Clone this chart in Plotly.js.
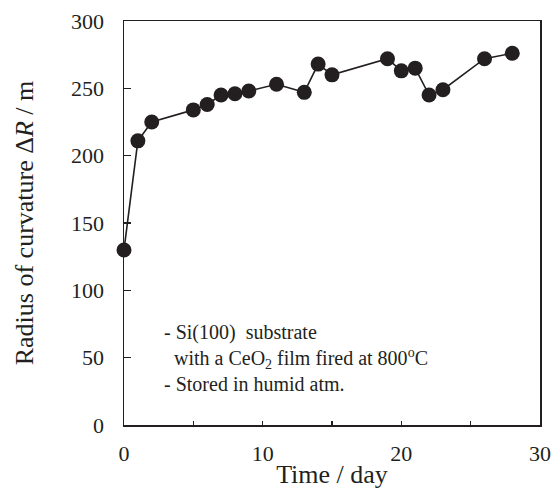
<!DOCTYPE html>
<html>
<head>
<meta charset="utf-8">
<script src="https://cdn.plot.ly/plotly-3.0.1.min.js"></script>
<style>html,body{margin:0;padding:0;background:#fff;}#chart{width:560px;height:502px;}</style>
</head>
<body>
<div id="chart"></div>
<script>
const days = [0, 1, 2, 5, 6, 7, 8, 9, 11, 13, 14, 15, 19, 20, 21, 22, 23, 26, 28];
const radius = [130, 211, 225, 234, 238, 245, 246, 248, 253, 247, 268, 260, 272, 263, 265, 245, 249, 272, 276];
const xTickVals = [0, 10, 20, 30];
const xTickText = ['0', '10', '20', '30'];
const yTickVals = [0, 50, 100, 150, 200, 250, 300];
const noteLines = ['- Si(100)  substrate', '\u00a0\u00a0with a CeO<sub>2</sub> film fired at 800<sup>o</sup>C', '- Stored in humid atm.'];

const ink = '#231f20';
const font = "'Liberation Serif', 'Times New Roman', Times, serif";

const trace = {
  x: days, y: radius, type: 'scatter', mode: 'lines+markers',
  line: {color: ink, width: 1.6},
  marker: {color: ink, size: 15},
  cliponaxis: false, hoverinfo: 'skip'
};

const layout = {
  width: 560, height: 502,
  margin: {l: 124, r: 20, t: 21, b: 77},
  paper_bgcolor: '#fff', plot_bgcolor: '#fff',
  showlegend: false,
  font: {family: font, color: ink, size: 20},
  xaxis: {
    range: [0, 30], tickmode: 'array', tickvals: xTickVals, ticktext: xTickText,
    ticks: 'inside', ticklen: 4, tickwidth: 1.2, tickcolor: ink,
    minor: {tickmode: 'linear', tick0: 5, dtick: 10, ticks: 'inside', ticklen: 4, tickwidth: 1.2, tickcolor: ink, showgrid: false},
    showline: true, mirror: true, linecolor: ink, linewidth: 1.5,
    showgrid: false, zeroline: false, layer: 'below traces',
    tickfont: {family: font, size: 22, color: ink},
    ticklabelstandoff: 8,
    title: {text: 'Time / day', font: {family: font, size: 26, color: ink}, standoff: 0}
  },
  yaxis: {
    range: [0, 300], tickmode: 'array', tickvals: yTickVals,
    ticks: 'inside', ticklen: 7, tickwidth: 1.2, tickcolor: ink,
    showline: true, mirror: true, linecolor: ink, linewidth: 1.5,
    showgrid: false, zeroline: false, layer: 'below traces',
    tickfont: {family: font, size: 22, color: ink},
    ticklabelstandoff: 14,
    title: {text: 'Radius of curvature \u0394<i>R</i> / m', font: {family: font, size: 26, color: ink}, standoff: 30}
  },
  annotations: [{
    xref: 'x', yref: 'y', x: 2.77, y: 50,
    xanchor: 'left', yanchor: 'middle', align: 'left',
    showarrow: false,
    text: noteLines.join('<br>'),
    font: {family: font, size: 20, color: ink}
  }]
};

Plotly.newPlot('chart', [trace], layout, {displayModeBar: false, staticPlot: true});
</script>
</body>
</html>
